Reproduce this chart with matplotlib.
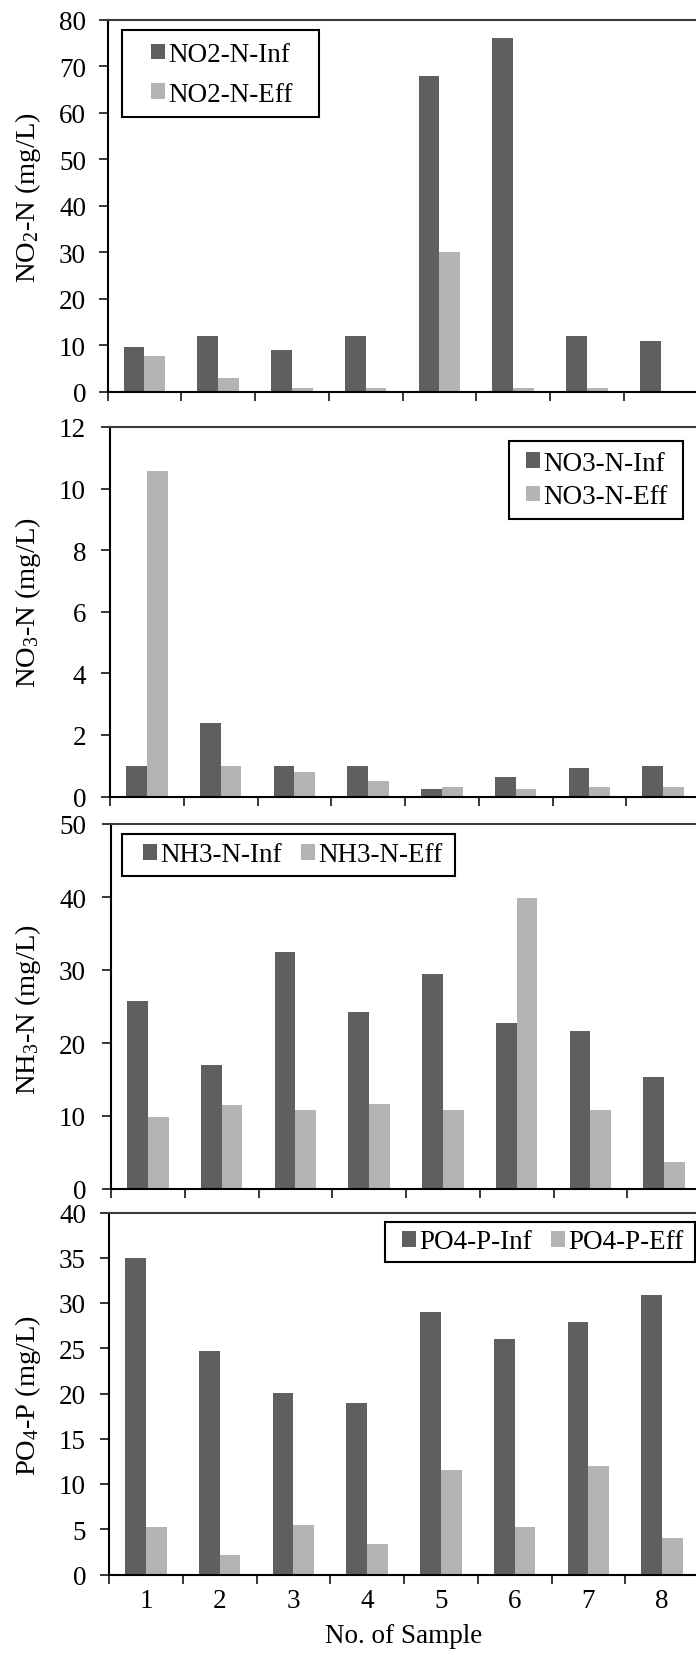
import numpy as np
import matplotlib
matplotlib.use('Agg')
import matplotlib.pyplot as plt
from matplotlib.patches import Rectangle

plt.rcParams['font.family'] = ['Liberation Serif', 'DejaVu Serif']
plt.rcParams['mathtext.fontset'] = 'custom'
plt.rcParams['mathtext.rm'] = 'Liberation Serif'
plt.rcParams['mathtext.it'] = 'Liberation Serif:italic'
plt.rcParams['mathtext.bf'] = 'Liberation Serif:bold'

# данные
samples = ['1', '2', '3', '4', '5', '6', '7', '8']
no2_inf = [9.7, 12.0, 9.0, 12.0, 67.8, 76.1, 12.0, 10.9]
no2_eff = [7.8, 3.0, 0.8, 0.8, 30.0, 0.8, 0.8, 0.0]
no3_inf = [1.0, 2.38, 1.0, 1.0, 0.24, 0.62, 0.92, 1.0]
no3_eff = [10.56, 1.0, 0.8, 0.5, 0.3, 0.24, 0.3, 0.3]
nh3_inf = [25.7, 17.0, 32.4, 24.2, 29.4, 22.7, 21.6, 15.4]
nh3_eff = [9.9, 11.5, 10.8, 11.7, 10.8, 39.9, 10.8, 3.7]
po4_inf = [35.0, 24.7, 20.1, 19.0, 29.0, 26.0, 27.9, 30.9]
po4_eff = [5.3, 2.1, 5.5, 3.4, 11.6, 5.3, 12.0, 4.0]

DARK = '#5f5f5f'
LIGHT = '#b3b3b3'
FS = 19.5
W, H = 696, 1665

fig = plt.figure(figsize=(W / 100, H / 100), dpi=100)


def px_axes(left, top, bottom, width=590):
    return fig.add_axes([left / W, 1 - bottom / H, width / W, (bottom - top) / H])


def draw_box(x0, y0, x1, y1):
    fig.patches.append(Rectangle((x0 / W, 1 - y1 / H), (x1 - x0) / W, (y1 - y0) / H,
                                 transform=fig.transFigure, fill=False,
                                 edgecolor='black', linewidth=1.5))


# панели: данные, подписи, оформление
panels = [
    dict(inf=no2_inf, eff=no2_eff, names=('NO2-N-Inf', 'NO2-N-Eff'),
         ylabel=r'NO$_\mathregular{2}$-N (mg/L)', ymax=80, step=10,
         left=107.5, top=20.5, bottom=393, ylab_y=198,
         box=(122, 31, 319, 118), leg_xy=(151, 75.5), ncol=1, lspace=0.55),
    dict(inf=no3_inf, eff=no3_eff, names=('NO3-N-Inf', 'NO3-N-Eff'),
         ylabel=r'NO$_\mathregular{3}$-N (mg/L)', ymax=12, step=2,
         left=110, top=428, bottom=797.5, ylab_y=603,
         box=(509, 442, 683, 520), leg_xy=(526, 481), ncol=1, lspace=0.3),
    dict(inf=nh3_inf, eff=nh3_eff, names=('NH3-N-Inf', 'NH3-N-Eff'),
         ylabel=r'NH$_\mathregular{3}$-N (mg/L)', ymax=50, step=10,
         left=111, top=825, bottom=1190, ylab_y=1010,
         box=(122, 835, 455, 877), leg_xy=(143, 856), ncol=2, lspace=0.5),
    dict(inf=po4_inf, eff=po4_eff, names=('PO4-P-Inf', 'PO4-P-Eff'),
         ylabel=r'PO$_\mathregular{4}$-P (mg/L)', ymax=40, step=5,
         left=109, top=1213.5, bottom=1575.5, ylab_y=1395,
         box=(385, 1223, 695, 1263), leg_xy=(402, 1243), ncol=2, lspace=0.5),
]

x = np.arange(len(samples))
bw = 0.28

for k, p in enumerate(panels):
    ax = px_axes(p['left'], p['top'], p['bottom'])
    ax.bar(x - bw / 2, p['inf'], bw, color=DARK, label=p['names'][0])
    ax.bar(x + bw / 2, p['eff'], bw, color=LIGHT, label=p['names'][1])
    ax.set_xlim(-0.5, 7.5)
    ax.set_ylim(0, p['ymax'])
    ax.set_yticks(np.arange(0, p['ymax'] + 0.1, p['step']))

    ax.spines['right'].set_visible(False)
    ax.spines['top'].set_color('#3a3a3a')
    for s in ('left', 'bottom', 'top'):
        ax.spines[s].set_linewidth(1.5)

    pad_px = p['left'] - 9.5 - 86
    ax.tick_params(axis='y', direction='out', length=6.8, width=1.1,
                   labelsize=FS, pad=pad_px * 0.72)
    ax.set_xticks(np.arange(-0.5, 8, 1), minor=True)
    ax.tick_params(axis='x', which='minor', direction='out', length=6.8, width=1.1)
    ax.set_xticks(x)
    ax.tick_params(axis='x', which='major', length=0, labelsize=FS, pad=10)
    if k == len(panels) - 1:
        ax.set_xticklabels(samples)
        ax.set_xlabel('No. of Sample', fontsize=FS, labelpad=7)
    else:
        ax.set_xticklabels([])

    fig.text(28 / W, 1 - p['ylab_y'] / H, p['ylabel'], rotation=90,
             ha='center', va='center', fontsize=20.5)

    draw_box(*p['box'])
    lx, ly = p['leg_xy']
    ax.legend(loc='center left', bbox_to_anchor=(lx / W, 1 - ly / H),
              bbox_transform=fig.transFigure, frameon=False, ncol=p['ncol'],
              fontsize=FS, handlelength=0.52, handleheight=0.52,
              handletextpad=0.12, labelspacing=p['lspace'],
              columnspacing=0.7, borderpad=0, borderaxespad=0)

fig.savefig('out.png', dpi=100)
